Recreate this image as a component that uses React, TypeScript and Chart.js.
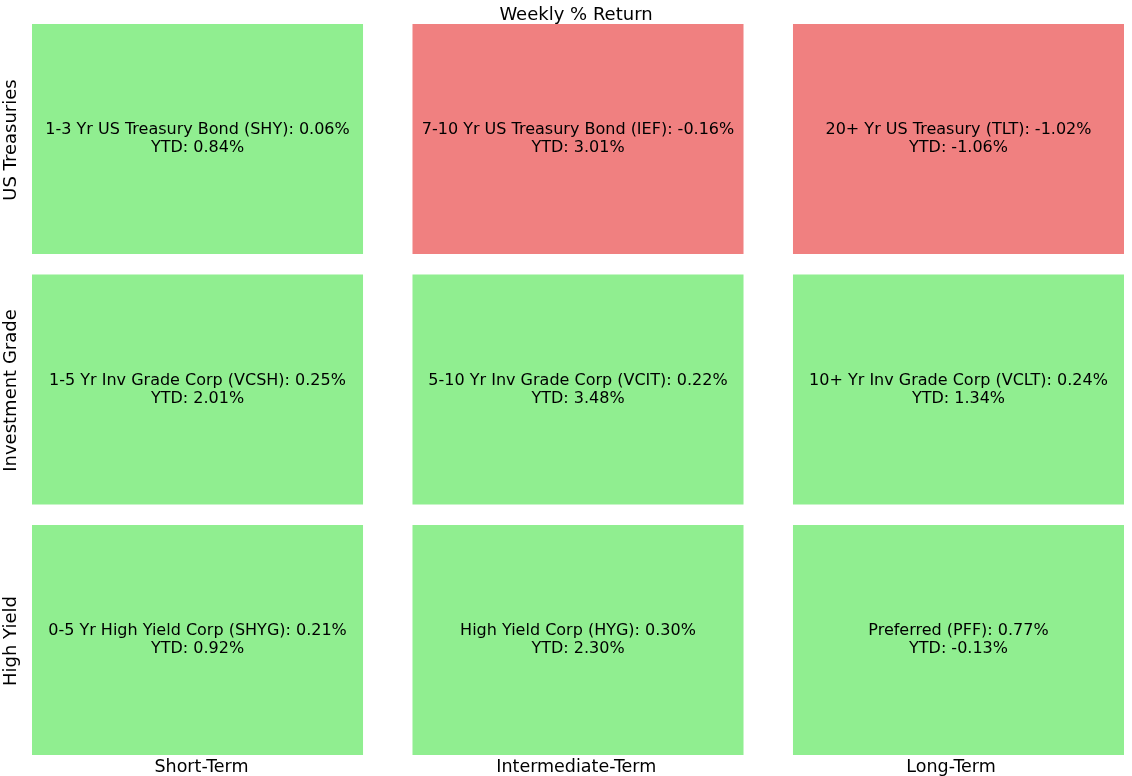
import React, { useEffect, useRef } from "react";
import { Chart, registerables } from "chart.js";

Chart.register(...registerables);

const rowLabels = ["US Treasuries", "Investment Grade", "High Yield"];
const colLabels = ["Short-Term", "Intermediate-Term", "Long-Term"];
const chartTitle = "Weekly % Return";

// names[col][row]
const shortNames = [
  "1-3 Yr US Treasury Bond (SHY)",
  "1-5 Yr Inv Grade Corp (VCSH)",
  "0-5 Yr High Yield Corp (SHYG)",
];
const interNames = [
  "7-10 Yr US Treasury Bond (IEF)",
  "5-10 Yr Inv Grade Corp (VCIT)",
  "High Yield Corp (HYG)",
];
const longNames = [
  "20+ Yr US Treasury (TLT)",
  "10+ Yr Inv Grade Corp (VCLT)",
  "Preferred (PFF)",
];
const shortWeekly = [0.06, 0.25, 0.21];
const interWeekly = [-0.16, 0.22, 0.3];
const longWeekly = [-1.02, 0.24, 0.77];
const shortYtd = [0.84, 2.01, 0.92];
const interYtd = [3.01, 3.48, 2.3];
const longYtd = [-1.06, 1.34, -0.13];

const names = [shortNames, interNames, longNames];
const weekly = [shortWeekly, interWeekly, longWeekly];
const ytd = [shortYtd, interYtd, longYtd];

const CELL_W = 0.87;
const GREEN = "#90EE90";
const RED = "#F08080";
const FONT = "'DejaVu Sans', sans-serif";

export default function App() {
  const ref = useRef<HTMLCanvasElement>(null);
  useEffect(() => {
    document.body.style.margin = "0";
    const canvas = ref.current!;
    const textPlugin = {
      id: "cellText",
      afterDatasetsDraw(chart: any) {
        const ctx = chart.ctx;
        ctx.save();
        ctx.fillStyle = "#000";
        ctx.textAlign = "center";
        ctx.textBaseline = "middle";
        ctx.font = `16px ${FONT}`;
        chart.data.datasets.forEach((ds: any, c: number) => {
          const meta = chart.getDatasetMeta(c);
          meta.data.forEach((bar: any, r: number) => {
            const p = bar.getProps(["x", "y", "base"], true);
            const cx = (p.x + p.base) / 2;
            const cy = p.y;
            ctx.fillText(
              `${names[c][r]}: ${weekly[c][r].toFixed(2)}%`,
              cx,
              cy - 9
            );
            ctx.fillText(`YTD: ${ytd[c][r].toFixed(2)}%`, cx, cy + 9);
          });
        });
        // column labels
        ctx.font = `17.5px ${FONT}`;
        const xs = chart.scales.x;
        const last = chart.getDatasetMeta(0).data.length - 1;
        chart.data.datasets.forEach((ds: any, c: number) => {
          const bar: any = chart.getDatasetMeta(c).data[last];
          const p = bar.getProps(["y", "height"], true);
          ctx.fillText(colLabels[c], xs.getPixelForValue(0.4455 + c * 0.985), p.y + p.height / 2 + 12);
        });
        // row labels
        ctx.font = `18px ${FONT}`;
        const m0 = chart.getDatasetMeta(0);
        m0.data.forEach((bar: any, r: number) => {
          const p = bar.getProps(["x", "y", "base"], true);
          ctx.save();
          ctx.translate(p.base - 21, p.y + 1);
          ctx.rotate(-Math.PI / 2);
          ctx.fillText(rowLabels[r], 0, 0);
          ctx.restore();
        });
        // title
        ctx.fillText(chartTitle, (chart.chartArea.left + chart.chartArea.right) / 2 - 2, 15);
        ctx.restore();
      },
    };
    const chart = new Chart(canvas, {
      type: "bar",
      data: {
        labels: rowLabels,
        datasets: colLabels.map((cl, c) => ({
          label: cl,
          data: weekly[c].map(() => [c, c + CELL_W]) as any,
          backgroundColor: weekly[c].map((v) => (v >= 0 ? GREEN : RED)),
          borderWidth: 0,
          grouped: false,
          categoryPercentage: 1,
          barPercentage: 230 / 250.5,
        })),
      },
      options: {
        indexAxis: "y",
        responsive: false,
        animation: false,
        layout: { padding: { left: 32, right: 8, top: 13.75, bottom: 10.75 } },
        plugins: {
          legend: { display: false },
          tooltip: { enabled: false },
          title: { display: false },
        },
        scales: {
          x: { type: "linear", min: 0, max: 2 + CELL_W, display: false },
          y: { type: "category", display: false, offset: true },
        },
      },
      plugins: [textPlugin],
    });
    return () => chart.destroy();
  }, []);
  return <canvas ref={ref} width={1132} height={776} style={{ display: "block" }} />;
}
